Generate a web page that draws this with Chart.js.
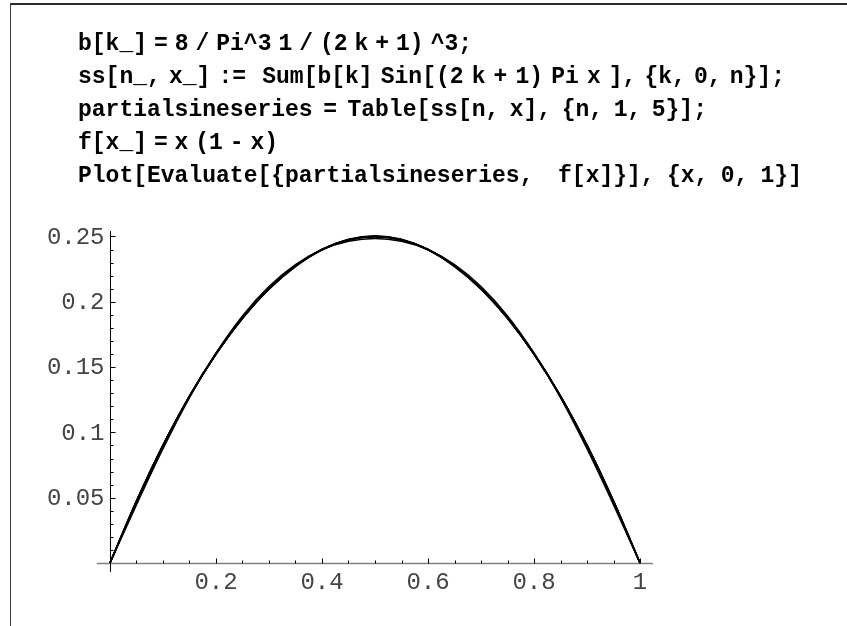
<!DOCTYPE html>
<html>
<head>
<meta charset="utf-8">
<title>partialsineseries</title>
<script src="https://cdn.jsdelivr.net/npm/chart.js@4.4.1/dist/chart.umd.min.js"></script>
<style>
    html, body { margin: 0; padding: 0; background: #fff; }
    #page { position: relative; width: 847px; height: 626px; overflow: hidden; }
    #frameTop { position: absolute; left: 10px; top: 3px; width: 837px; height: 2px; background: #2a2a2a; }
    #frameLeft { position: absolute; left: 10px; top: 3px; width: 1px; height: 623px; background: #3a3a3a; }
    #plot { position: absolute; left: 0; top: 0; }
    .code {
        position: absolute; left: 78px; height: 24px; line-height: 24px;
        font-family: "Liberation Mono", "DejaVu Sans Mono", monospace;
        font-weight: bold; font-size: 23px; color: #000; white-space: pre;
    }
</style>
</head>
<body>
<div id="page">
    <div id="frameTop"></div>
    <div id="frameLeft"></div>
    <canvas id="plot" width="847" height="626"></canvas>
    <div class="code" data-w="394" style="top:32px">b[k_] = 8 / Pi^3 1 / (2 k + 1) ^3;</div>
    <div class="code" data-w="707" style="top:65px">ss[n_, x_] :=  Sum[b[k] Sin[(2 k + 1) Pi x ], {k, 0, n}];</div>
    <div class="code" data-w="629" style="top:98px">partialsineseries = Table[ss[n, x], {n, 1, 5}];</div>
    <div class="code" data-w="200" style="top:131px">f[x_] = x (1 - x)</div>
    <div class="code" data-w="724" style="top:164px">Plot[Evaluate[{partialsineseries,  f[x]}], {x, 0, 1}]</div>
</div>

<script>
// valores de x muestreados en [0, 1]
const xValores = [0, 0.05, 0.1, 0.15, 0.2, 0.25, 0.3, 0.35, 0.4, 0.45, 0.5,
                  0.55, 0.6, 0.65, 0.7, 0.75, 0.8, 0.85, 0.9, 0.95, 1];

// sumas parciales ss[n, x], n = 1..5
const serieN1 = [0, 0.0447, 0.0875, 0.1266, 0.1607, 0.1892, 0.2117, 0.2284, 0.2398, 0.2463, 0.2485,
                 0.2463, 0.2398, 0.2284, 0.2117, 0.1892, 0.1607, 0.1266, 0.0875, 0.0447, 0];
const serieN2 = [0, 0.0462, 0.0895, 0.1280, 0.1607, 0.1877, 0.2096, 0.2269, 0.2398, 0.2478, 0.2505,
                 0.2478, 0.2398, 0.2269, 0.2096, 0.1877, 0.1607, 0.1280, 0.0895, 0.0462, 0];
const serieN3 = [0, 0.0468, 0.0901, 0.1279, 0.1600, 0.1872, 0.2099, 0.2277, 0.2402, 0.2474, 0.2498,
                 0.2474, 0.2402, 0.2277, 0.2099, 0.1872, 0.1600, 0.1279, 0.0901, 0.0468, 0];
const serieN4 = [0, 0.0472, 0.0902, 0.1276, 0.1598, 0.1875, 0.2101, 0.2275, 0.2399, 0.2475, 0.2501,
                 0.2475, 0.2399, 0.2275, 0.2101, 0.1875, 0.1598, 0.1276, 0.0902, 0.0472, 0];
const serieN5 = [0, 0.0474, 0.0902, 0.1274, 0.1599, 0.1876, 0.2100, 0.2274, 0.2401, 0.2475, 0.2499,
                 0.2475, 0.2401, 0.2274, 0.2100, 0.1876, 0.1599, 0.1274, 0.0902, 0.0474, 0];
// f[x] = x (1 - x)
const serieF  = [0, 0.0475, 0.0900, 0.1275, 0.1600, 0.1875, 0.2100, 0.2275, 0.2400, 0.2475, 0.2500,
                 0.2475, 0.2400, 0.2275, 0.2100, 0.1875, 0.1600, 0.1275, 0.0900, 0.0475, 0];

// marcas de los ejes
const xMarcas       = [0.2, 0.4, 0.6, 0.8, 1];
const xEtiquetas    = ['0.2', '0.4', '0.6', '0.8', '1'];
const xMarcasMenor  = [0.05, 0.1, 0.15, 0.25, 0.3, 0.35, 0.45, 0.5, 0.55, 0.65, 0.7, 0.75, 0.85, 0.9, 0.95];
const yMarcas       = [0.05, 0.1, 0.15, 0.2, 0.25];
const yEtiquetas    = ['0.05', '0.1', '0.15', '0.2', '0.25'];
const yMarcasMenor  = [0.01, 0.02, 0.03, 0.04, 0.06, 0.07, 0.08, 0.09, 0.11, 0.12, 0.13, 0.14,
                       0.16, 0.17, 0.18, 0.19, 0.21, 0.22, 0.23, 0.24];

// ajusta el ancho de cada línea de código
document.querySelectorAll('.code').forEach(el => {
    const objetivo = parseFloat(el.dataset.w);
    const natural = el.getBoundingClientRect().width;
    const espacios = (el.textContent.match(/ /g) || []).length;
    if (espacios > 0) el.style.wordSpacing = ((objetivo - natural) / espacios).toFixed(2) + 'px';
});

// ejes cruzados en el origen, estilo Mathematica
const ejesPlugin = {
    id: 'ejes',
    beforeDatasetsDraw(chart) {
        const { ctx, chartArea, scales } = chart;
        const sx = scales.x, sy = scales.y;
        const x0 = Math.round(sx.getPixelForValue(0)) + 0.5;
        const y0 = Math.round(sy.getPixelForValue(0)) + 0.5;
        ctx.save();

        // eje x
        ctx.strokeStyle = '#808080';
        ctx.lineWidth = 1.5;
        ctx.beginPath();
        ctx.moveTo(chartArea.left, y0);
        ctx.lineTo(chartArea.right, y0);
        ctx.stroke();

        // eje y
        ctx.strokeStyle = '#000';
        ctx.lineWidth = 1;
        ctx.beginPath();
        ctx.moveTo(x0, chartArea.top);
        ctx.lineTo(x0, chartArea.bottom);
        ctx.stroke();

        // marcas
        ctx.strokeStyle = '#000';
        ctx.beginPath();
        xMarcasMenor.forEach(v => {
            const px = Math.round(sx.getPixelForValue(v)) + 0.5;
            ctx.moveTo(px, y0); ctx.lineTo(px, y0 - 3);
        });
        xMarcas.forEach(v => {
            const px = Math.round(sx.getPixelForValue(v)) + 0.5;
            ctx.moveTo(px, y0); ctx.lineTo(px, y0 - 5);
        });
        yMarcasMenor.forEach(v => {
            const py = Math.round(sy.getPixelForValue(v)) + 0.5;
            ctx.moveTo(x0, py); ctx.lineTo(x0 + 3, py);
        });
        yMarcas.forEach(v => {
            const py = Math.round(sy.getPixelForValue(v)) + 0.5;
            ctx.moveTo(x0, py); ctx.lineTo(x0 + 5, py);
        });
        ctx.stroke();

        // etiquetas
        ctx.fillStyle = '#444';
        ctx.font = '24px "Liberation Mono", "Courier New", monospace';
        ctx.textBaseline = 'middle';
        ctx.textAlign = 'center';
        xMarcas.forEach((v, i) => {
            ctx.fillText(xEtiquetas[i], sx.getPixelForValue(v), y0 + 19);
        });
        ctx.textAlign = 'right';
        yMarcas.forEach((v, i) => {
            ctx.fillText(yEtiquetas[i], x0 - 6, sy.getPixelForValue(v) + 1);
        });
        ctx.restore();
    }
};

function _serie(valores) {
    return {
        data: xValores.map((x, i) => ({ x, y: valores[i] })),
        borderColor: '#000',
        borderWidth: 1.6,
        pointRadius: 0,
        cubicInterpolationMode: 'monotone',
        fill: false
    };
}

new Chart(document.getElementById('plot'), {
    type: 'line',
    data: {
        datasets: [serieN1, serieN2, serieN3, serieN4, serieN5, serieF].map(_serie)
    },
    options: {
        responsive: false,
        animation: false,
        layout: { padding: { left: 97, right: 194, top: 231, bottom: 54 } },
        plugins: { legend: { display: false }, tooltip: { enabled: false } },
        scales: {
            x: { type: 'linear', min: -0.0245, max: 1.0245, display: false },
            y: { type: 'linear', min: -0.0069, max: 0.2542, display: false }
        }
    },
    plugins: [ejesPlugin]
});
</script>
</body>
</html>
